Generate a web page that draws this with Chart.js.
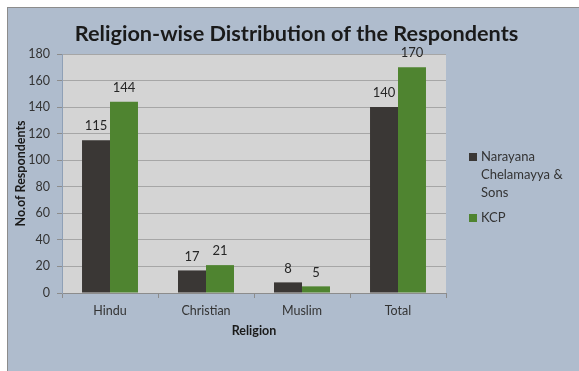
<!DOCTYPE html>
<html>
<head>
<meta charset="utf-8">
<script src="https://cdn.jsdelivr.net/npm/chart.js@4.4.0/dist/chart.umd.min.js"></script>
<style>
  html, body { margin: 0; padding: 0; background: #fff; }
  body { width: 579px; height: 371px; overflow: hidden; position: relative; }
  #frame { position: absolute; left: 7px; top: 7px; width: 571px; height: 363px;
           border-top: 1px solid #8c8c8c; border-left: 1px solid #8c8c8c; background: #afbccd; }
  #chart { position: absolute; left: 0; top: 0; }
</style>
</head>
<body>
<div id="frame"><canvas id="chart" width="571" height="363"></canvas></div>
<script>
// data
const religions = ['Hindu', 'Christian', 'Muslim', 'Total'];
const ncsValues = [115, 17, 8, 140];
const kcpValues = [144, 21, 5, 170];
const seriesNames = ['Narayana Chelamayya & Sons', 'KCP'];
const chartTitle = 'Religion-wise Distribution of the Respondents';

Chart.defaults.font.family = 'Lato';
Chart.defaults.color = '#333';

// plot background, value labels, title and legend
const chartDecor = {
  id: 'chartDecor',
  beforeDraw(chart) {
    const { ctx, chartArea: a } = chart;
    ctx.save();
    ctx.fillStyle = '#d4d4d4';
    ctx.fillRect(a.left, a.top, a.right - a.left, a.bottom - a.top);
    ctx.restore();
  },
  afterDatasetsDraw(chart) {
    const ctx = chart.ctx;
    ctx.save();
    ctx.font = '13px Lato';
    ctx.fillStyle = '#262626';
    ctx.textAlign = 'center';
    ctx.textBaseline = 'middle';
    chart.data.datasets.forEach((ds, i) => {
      chart.getDatasetMeta(i).data.forEach((bar, j) => {
        ctx.fillText(ds.data[j], bar.x, bar.y - 14);
      });
    });
    ctx.restore();
  },
  afterDraw(chart) {
    const ctx = chart.ctx;
    ctx.save();
    // title
    ctx.font = 'bold 21.7px Lato';
    ctx.fillStyle = '#1a1a1a';
    ctx.textAlign = 'center';
    ctx.textBaseline = 'middle';
    ctx.fillText(chartTitle, chart.width / 2 + 3, 26);

    // legend, wrapped like the original
    ctx.font = '13px Lato';
    ctx.textAlign = 'left';
    let y = 149;
    chart.data.datasets.forEach((ds) => {
      const words = ds.label.split(' ');
      const lines = [];
      let line = '';
      words.forEach((w) => {
        const t = line ? line + ' ' + w : w;
        if (ctx.measureText(t).width > 92 && line) { lines.push(line); line = w; }
        else line = t;
      });
      lines.push(line);
      ctx.fillStyle = ds.backgroundColor;
      ctx.fillRect(461, y - 4, 8, 8);
      ctx.fillStyle = '#333';
      lines.forEach((l, k) => ctx.fillText(l, 473, y + k * 18));
      y += lines.length * 18 + 7;
    });
    ctx.restore();
  }
};

new Chart(document.getElementById('chart'), {
  type: 'bar',
  data: {
    labels: religions,
    datasets: [
      { label: seriesNames[0], data: ncsValues, backgroundColor: '#3a3735' },
      { label: seriesNames[1], data: kcpValues, backgroundColor: '#4f8430' }
    ]
  },
  options: {
    responsive: false,
    animation: false,
    layout: { padding: { top: 46, right: 133, left: 0, bottom: 0 } },
    datasets: { bar: { categoryPercentage: 0.583, barPercentage: 1 } },
    plugins: { legend: { display: false }, title: { display: false }, tooltip: { enabled: false } },
    scales: {
      x: {
        afterFit(s) { s.height = 78; },
        grid: { drawOnChartArea: false, tickLength: 5, tickColor: '#8c8c8c' },
        border: { color: '#8c8c8c' },
        ticks: { font: { size: 12.5 }, color: '#333', padding: 5 },
        title: { display: true, text: 'Religion', font: { size: 12.5, weight: 'bold' }, color: '#1a1a1a',
                 padding: { top: 0, bottom: 33 } }
      },
      y: {
        min: 0, max: 180,
        afterFit(s) { s.width = 54; },
        grid: { color: '#a6a6a6', tickLength: 5, tickColor: '#8c8c8c' },
        border: { color: '#8fa0b6' },
        ticks: { stepSize: 20, font: { size: 12.5 }, color: '#333', padding: 7 },
        title: { display: true, text: 'No.of Respondents', font: { size: 12.5, weight: 'bold' }, color: '#1a1a1a',
                 padding: { top: 5, bottom: 0 } }
      }
    }
  },
  plugins: [chartDecor]
});
</script>
</body>
</html>
